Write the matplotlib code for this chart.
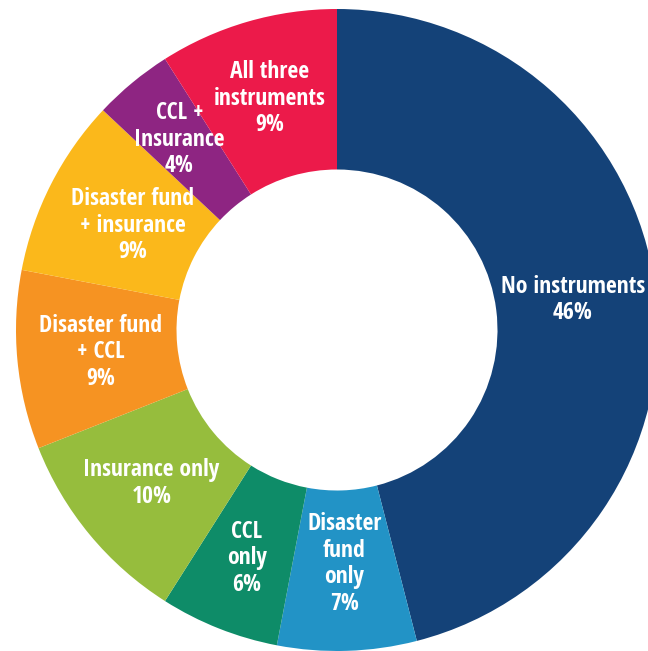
import matplotlib
matplotlib.use("Agg")
import numpy as np
import matplotlib.pyplot as plt
from matplotlib import font_manager as fm

categories = ["No instruments", "Disaster\nfund\nonly", "CCL\nonly", "Insurance only",
              "Disaster fund\n+ CCL", "Disaster fund\n+ insurance", "CCL +\nInsurance",
              "All three\ninstruments"]
values = [46, 7, 6, 10, 9, 9, 4, 9]
colors = ["#144278", "#2293c6", "#0e8c68", "#96bd3d", "#f69322", "#fbb81b", "#8e2582", "#ec1a4a"]
label_dist = [0.74, 0.73, 0.765, 0.75, 0.74, 0.715, 0.77, 0.75]

labels = [f"{c}\n{v}%" for c, v in zip(categories, values)]


def pick_font():
    cands = []
    for f in fm.fontManager.ttflist:
        name = f.name.lower()
        path = f.fname.lower()
        narrow = ("condensed" in name or "narrow" in name or "condensed" in path
                  or "narrow" in path or str(f.stretch) in ("condensed", "semi-condensed",
                                                            "extra-condensed"))
        w = f.weight if isinstance(f.weight, int) else {"bold": 700}.get(f.weight, 400)
        if narrow and w >= 600 and f.style == "normal":
            pref = 0
            for i, key in enumerate(["open sans", "liberation", "roboto", "noto", "dejavu"]):
                if key in name:
                    pref = i
                    break
            else:
                pref = 9
            cands.append((pref, f.fname))
    if cands:
        cands.sort()
        return fm.FontProperties(fname=cands[0][1]), True
    return fm.FontProperties(family="Open Sans", weight="bold"), False


fp, narrow = pick_font()

W, H = 648, 651
fig = plt.figure(figsize=(W / 100, H / 100), dpi=100)
ax = fig.add_axes([0, 0, 1, 1])
wedges, texts = ax.pie(values, labels=labels, colors=colors, startangle=90, counterclock=False,
                       radius=1.0, labeldistance=0.75,
                       wedgeprops=dict(width=0.5, linewidth=0),
                       textprops=dict(ha="center", va="center", color="white",
                                      linespacing=1.14))
for w, t, d in zip(wedges, texts, label_dist):
    ang = np.deg2rad((w.theta1 + w.theta2) / 2)
    t.set_position((d * np.cos(ang), d * np.sin(ang)))
    t.set_fontproperties(fp)
    t.set_fontsize(17 if narrow else 14)

R = 321.0
cx, cy = 337.0, 330.0
ax.set_aspect("auto")
ax.set_xlim(-cx / R, (W - cx) / R)
ax.set_ylim(-(H - cy) / R, cy / R)
ax.axis("off")
fig.savefig("out.png", dpi=100)
